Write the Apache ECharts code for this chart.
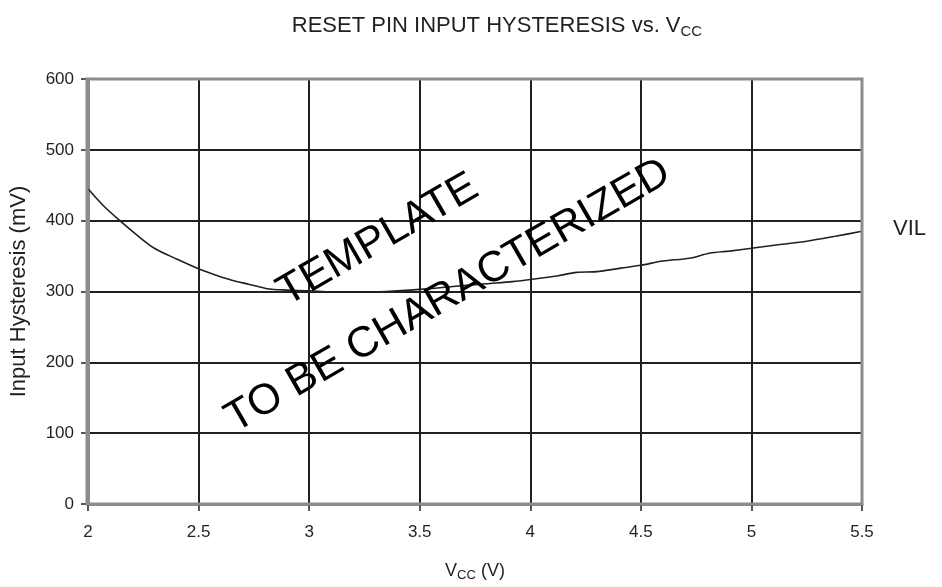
<!DOCTYPE html>
<html>
<head>
<meta charset="utf-8">
<script src="https://cdn.jsdelivr.net/npm/echarts@6/dist/echarts.min.js"></script>
<style>
  html, body { margin: 0; padding: 0; background: #fff; }
  #chart { width: 942px; height: 587px; }
</style>
</head>
<body>
<div id="chart"></div>
<script>
// Supply voltage (V) and measured hysteresis on the RESET pin (mV)
const vcc = [2.0, 2.07, 2.14, 2.22, 2.30, 2.40, 2.50, 2.58, 2.65, 2.73, 2.81, 2.90, 3.00, 3.10, 3.22, 3.35, 3.50, 3.65, 3.80, 3.92, 4.00, 4.12, 4.21, 4.30, 4.41, 4.50, 4.60, 4.72, 4.81, 4.90, 5.00, 5.12, 5.25, 5.38, 5.50];
const hysteresis = [445, 421, 401, 380, 361, 346, 332, 323, 316, 310, 304, 302, 301, 299, 299, 300, 303, 307, 311, 314, 317, 322, 327, 328, 333, 337, 343, 347, 354, 357, 361, 366, 371, 378, 385];
const seriesName = 'VIL';

const xTicks = { min: 2, max: 5.5, step: 0.5 };
const yTicks = { min: 0, max: 600, step: 100 };

const FONT = '"Liberation Sans", Arial, sans-serif';
const INK = '#231f20';
const FRAME = '#8c8c8c';

const chart = echarts.init(document.getElementById('chart'));

const gridBox = { left: 87, top: 79, width: 775, height: 425 };

chart.setOption({
  animation: false,
  backgroundColor: '#fff',
  title: {
    text: '{t|RESET PIN INPUT HYSTERESIS vs. V}{s|CC}',
    left: 492,
    textAlign: 'center',
    top: 7,
    textStyle: {
      rich: {
        t: { fontFamily: FONT, fontSize: 22, fontWeight: 'normal', color: INK },
        s: { fontFamily: FONT, fontSize: 15, fontWeight: 'normal', color: INK, padding: [12, 0, 0, 0] }
      }
    }
  },
  grid: {
    left: gridBox.left,
    top: gridBox.top,
    width: gridBox.width,
    height: gridBox.height,
    show: false
  },
  xAxis: {
    type: 'value',
    min: xTicks.min,
    max: xTicks.max,
    interval: xTicks.step,
    name: '{n|V}{s|CC}{n| (V)}',
    nameLocation: 'middle',
    nameGap: 56,
    nameTextStyle: {
      rich: {
        n: { fontFamily: FONT, fontSize: 18, color: INK },
        s: { fontFamily: FONT, fontSize: 13, color: INK, padding: [9, 0, 0, 0] }
      }
    },
    axisLine: { show: true, lineStyle: { color: FRAME, width: 3 } },
    axisTick: { show: true, inside: false, length: 7, lineStyle: { color: INK, width: 1.5 } },
    axisLabel: { fontFamily: FONT, fontSize: 17, color: INK, margin: 20 },
    splitLine: { show: true, lineStyle: { color: INK, width: 2 } }
  },
  yAxis: {
    type: 'value',
    min: yTicks.min,
    max: yTicks.max,
    interval: yTicks.step,
    name: 'Input Hysteresis (mV)',
    nameLocation: 'middle',
    nameGap: 58,
    nameTextStyle: { fontFamily: FONT, fontSize: 22, color: INK },
    axisLine: { show: true, lineStyle: { color: FRAME, width: 3 } },
    axisTick: { show: true, inside: false, length: 7, lineStyle: { color: INK, width: 1.5 } },
    axisLabel: { fontFamily: FONT, fontSize: 17, color: INK, margin: 14 },
    splitLine: { show: true, lineStyle: { color: INK, width: 2 } }
  },
  series: [{
    name: seriesName,
    type: 'line',
    data: vcc.map((v, i) => [v, hysteresis[i]]),
    smooth: 0.3,
    symbol: 'none',
    lineStyle: { color: INK, width: 1.6 },
    endLabel: {
      show: true,
      formatter: seriesName,
      distance: 31,
      fontFamily: FONT,
      fontSize: 22,
      color: INK,
      offset: [0, -2]
    },
    z: 3
  }],
  graphic: [
    // plot frame drawn over the edge grid lines
    {
      type: 'rect',
      z: 50,
      silent: true,
      shape: { x: gridBox.left, y: gridBox.top, width: gridBox.width, height: gridBox.height },
      style: { fill: null, stroke: FRAME, lineWidth: 3 }
    },
    // diagonal watermark
    {
      type: 'text',
      z: 60,
      x: 378, y: 240,
      rotation: 30 * Math.PI / 180,
      style: {
        text: 'TEMPLATE',
        fontFamily: FONT,
        fontSize: 43,
        fill: '#000',
        align: 'center',
        verticalAlign: 'middle'
      }
    },
    {
      type: 'text',
      z: 60,
      x: 448, y: 296,
      rotation: 30 * Math.PI / 180,
      style: {
        text: 'TO BE CHARACTERIZED',
        fontFamily: FONT,
        fontSize: 43,
        fill: '#000',
        align: 'center',
        verticalAlign: 'middle'
      }
    }
  ]
});
</script>
</body>
</html>
